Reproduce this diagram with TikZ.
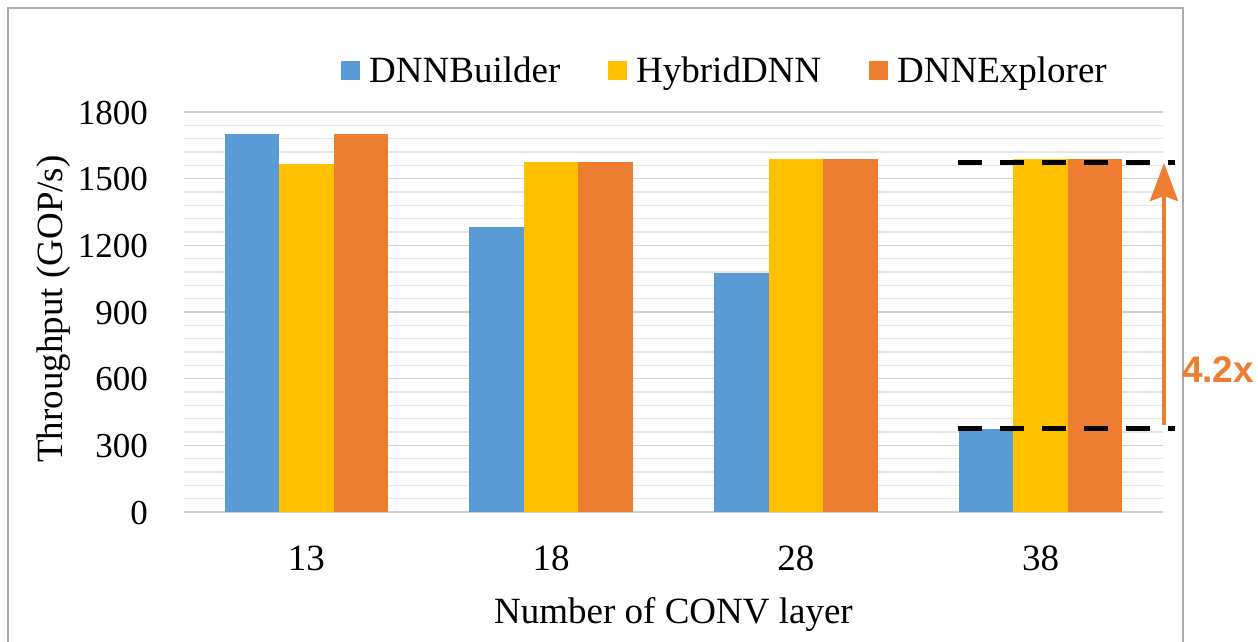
\documentclass[tikz,border=0pt]{standalone}
\usepackage{fontspec}
\setmainfont{Liberation Serif}
\newfontfamily\gainfont{Liberation Sans}
\usetikzlibrary{arrows.meta}

\definecolor{builderblue}{HTML}{5B9BD5}
\definecolor{hybridyellow}{HTML}{FFC000}
\definecolor{explorerorange}{HTML}{ED7D31}
\definecolor{gridlight}{HTML}{E6E6E6}
\definecolor{griddark}{HTML}{D0D0D0}

\begin{document}
\begin{tikzpicture}[x=1pt, y=1pt,
  every node/.style={inner sep=0pt, font=\fontsize{37}{44}\selectfont},
  ticklbl/.style={font=\fontsize{35}{42}\selectfont, anchor=base east},
  gridminor/.style={draw=gridlight, line width=1.2pt},
  gridmajor/.style={draw=griddark, line width=1.6pt},
  legbox/.style={minimum size=18.5pt, inner sep=0pt}]

\useasboundingbox (0,0) rectangle (1258,641);

% Frame (bottom edge is cut off)
\draw[gray!65, line width=1.4pt] (8,-5) -- (8,633) -- (1183,633) -- (1183,-5);

% Plot geometry
\def\xzero{184}
\def\xend{1163}
\def\yzero{129}
\def\ys{0.22222}
\def\catw{244.75}
\def\barw{54.5}

% --- Grid and tick labels ---
\foreach \k in {1,...,30}
  \draw[gridminor] (\xzero,{\yzero+60*\k*\ys}) -- (\xend,{\yzero+60*\k*\ys});
\foreach \v in {0,300,...,1800}{
  \draw[gridmajor] (\xzero,{\yzero+\v*\ys}) -- (\xend,{\yzero+\v*\ys});
  \node[ticklbl] (tick\v) at (148,{\yzero+\v*\ys-12}) {\v};
}

% --- Bars: index/layers/DNNBuilder/HybridDNN/DNNExplorer ---
\foreach \i/\lay/\a/\b/\c in {
  0/13/1702/1566/1702,
  1/18/1282/1575/1575,
  2/28/1075/1588/1588,
  3/38/375/1588/1588
}{
  \pgfmathsetmacro\cx{\xzero+(\i+0.5)*\catw}
  \fill[builderblue]    ({\cx-1.5*\barw},\yzero) rectangle ({\cx-0.5*\barw},{\yzero+\a*\ys});
  \fill[hybridyellow]   ({\cx-0.5*\barw},\yzero) rectangle ({\cx+0.5*\barw},{\yzero+\b*\ys});
  \fill[explorerorange] ({\cx+0.5*\barw},\yzero) rectangle ({\cx+1.5*\barw},{\yzero+\c*\ys});
  \node[anchor=base] (cat\lay) at (\cx,71) {\lay};
}

% Axis titles
\node[rotate=90, anchor=base] (ytitle) at (62,332) {Throughput (GOP/s)};
\node[anchor=base] (xtitle) at (673.5,18) {Number of CONV layer};

% --- Legend ---
\foreach \name/\col/\sx in {
  DNNBuilder/builderblue/341,
  HybridDNN/hybridyellow/608,
  DNNExplorer/explorerorange/869
}{
  \node[legbox, fill=\col, anchor=south west] (sq\name) at (\sx,561) {};
  \node[anchor=base west] (leg\name) at ({\sx+28},558) {\name};
}

% --- Speedup marker ---
\coordinate (hiL) at (958,478);
\coordinate (hiR) at (1175,478);
\coordinate (loL) at (958,212.3);
\coordinate (loR) at (1175,212.3);
\draw[line width=5pt, dash pattern=on 24pt off 18pt] (hiL) -- (hiR);
\draw[line width=5pt, dash pattern=on 24pt off 18pt] (loL) -- (loR);

\coordinate (arrS) at (1164,216);
\coordinate (arrE) at (1164,478);
\draw[explorerorange, line width=4pt,
      -{Stealth[length=38pt, width=28pt, inset=5pt]}] (arrS) -- (arrE);
\node[text=explorerorange, font={\gainfont\bfseries\fontsize{37}{44}\selectfont}]
  (gain) at (1218,271) {4.2x};

\end{tikzpicture}
\end{document}
